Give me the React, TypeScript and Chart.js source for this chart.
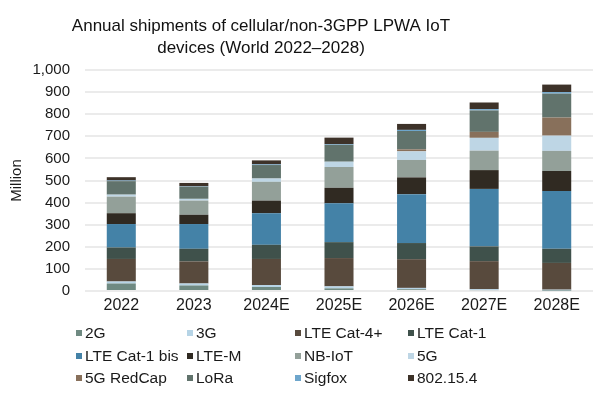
import React, { useEffect, useRef } from "react";
import { Chart, registerables } from "chart.js";
Chart.register(...registerables);

const titleLines = ["Annual shipments of cellular/non-3GPP LPWA IoT", "devices (World 2022–2028)"];
const yAxisTitle = "Million";
const categories = ["2022", "2023", "2024E", "2025E", "2026E", "2027E", "2028E"];
const yTicks = [0, 100, 200, 300, 400, 500, 600, 700, 800, 900, 1000];

const seriesNames = ["2G", "3G", "LTE Cat-4+", "LTE Cat-1", "LTE Cat-1 bis", "LTE-M", "NB-IoT", "5G", "5G RedCap", "LoRa", "Sigfox", "802.15.4"];
const seriesColors = ["#6f8a82", "#b6d4e6", "#584a3d", "#3f514b", "#4482a7", "#302a22", "#93a099", "#bed6e5", "#88705b", "#61736c", "#6ea6cc", "#3d3229"];

const s2G = [34, 25, 18, 12, 8, 4, 2];
const s3G = [9, 9, 9, 9, 6, 4, 4];
const sCat4 = [102, 100, 118, 128, 130, 127, 121];
const sCat1 = [52, 57, 64, 72, 73, 67, 64];
const sCat1bis = [106, 112, 143, 176, 221, 260, 261];
const sLteM = [49, 42, 57, 70, 76, 85, 91];
const sNbIot = [75, 64, 85, 94, 79, 88, 91];
const s5G = [9, 8, 15, 24, 39, 58, 69];
const sRedCap = [0, 0, 0, 0, 9, 27, 82];
const sLoRa = [61, 55, 61, 76, 83, 97, 108];
const sSigfox = [3, 2, 3, 3, 5, 6, 7];
const s802 = [15, 15, 18, 30, 27, 30, 34];

const seriesValues = [s2G, s3G, sCat4, sCat1, sCat1bis, sLteM, sNbIot, s5G, sRedCap, sLoRa, sSigfox, s802];

const FONT = "'Liberation Sans', Arial, sans-serif";

const titlePlugin = {
  id: "customTitle",
  afterDraw(chart: any) {
    const ctx = chart.ctx;
    ctx.save();
    ctx.font = `17px ${FONT}`;
    ctx.fillStyle = "#111111";
    ctx.textAlign = "center";
    ctx.textBaseline = "alphabetic";
    ctx.fillText(titleLines[0], 261, 31);
    ctx.fillText(titleLines[1], 261, 53);
    ctx.restore();
  },
};

export default function App() {
  const ref = useRef<HTMLCanvasElement>(null);
  useEffect(() => {
    if (!ref.current) return;
    const chart = new Chart(ref.current, {
      type: "bar",
      data: {
        labels: categories,
        datasets: seriesNames.map((name, i) => ({
          label: name,
          data: seriesValues[i],
          backgroundColor: seriesColors[i],
          borderWidth: 0,
          barPercentage: 0.8,
          categoryPercentage: 0.5,
        })),
      },
      options: {
        responsive: false,
        animation: false,
        layout: { padding: { left: 4, right: 7, top: 70, bottom: 79 } },
        plugins: {
          legend: { display: false },
          title: { display: false },
          tooltip: { enabled: false },
        },
        scales: {
          x: {
            stacked: true,
            grid: { display: false, drawTicks: false },
            border: { display: false },
            ticks: { color: "#1a1a1a", font: { family: FONT, size: 16 }, padding: 5 },
            afterFit: (scale: any) => { scale.height = 30; },
          },
          y: {
            stacked: true,
            min: 0,
            max: 1000,
            afterBuildTicks: (scale: any) => { scale.ticks = yTicks.map((v) => ({ value: v })); },
            grid: { color: "#ebebeb", lineWidth: 2, drawTicks: false },
            border: { display: false },
            ticks: { color: "#1a1a1a", font: { family: FONT, size: 15 }, padding: 15 },
            title: { display: true, text: yAxisTitle, color: "#1a1a1a", font: { family: FONT, size: 15 }, padding: { top: 4, bottom: 4 } },
            afterFit: (scale: any) => { scale.width = 81; },
          },
        },
      },
      plugins: [titlePlugin],
    });
    return () => chart.destroy();
  }, []);

  const colLeft = [76, 187, 295, 408];
  const rowTop = [333, 356, 378];

  return (
    <div style={{ position: "absolute", left: 0, top: 0, width: 600, height: 400, background: "#fff", overflow: "hidden" }}>
      <canvas ref={ref} width={600} height={400} style={{ display: "block" }} />
      {seriesNames.map((name, i) => {
        const r = Math.floor(i / 4);
        const c = i % 4;
        return (
          <div
            key={name}
            style={{
              position: "absolute",
              left: colLeft[c],
              top: rowTop[r] - 10,
              height: 20,
              display: "flex",
              alignItems: "center",
              fontFamily: FONT,
              fontSize: 15.5,
              color: "#1a1a1a",
              whiteSpace: "nowrap",
            }}
          >
            <span style={{ display: "inline-block", width: 6, height: 6, background: seriesColors[i], marginRight: 3 }} />
            <span>{name}</span>
          </div>
        );
      })}
    </div>
  );
}
